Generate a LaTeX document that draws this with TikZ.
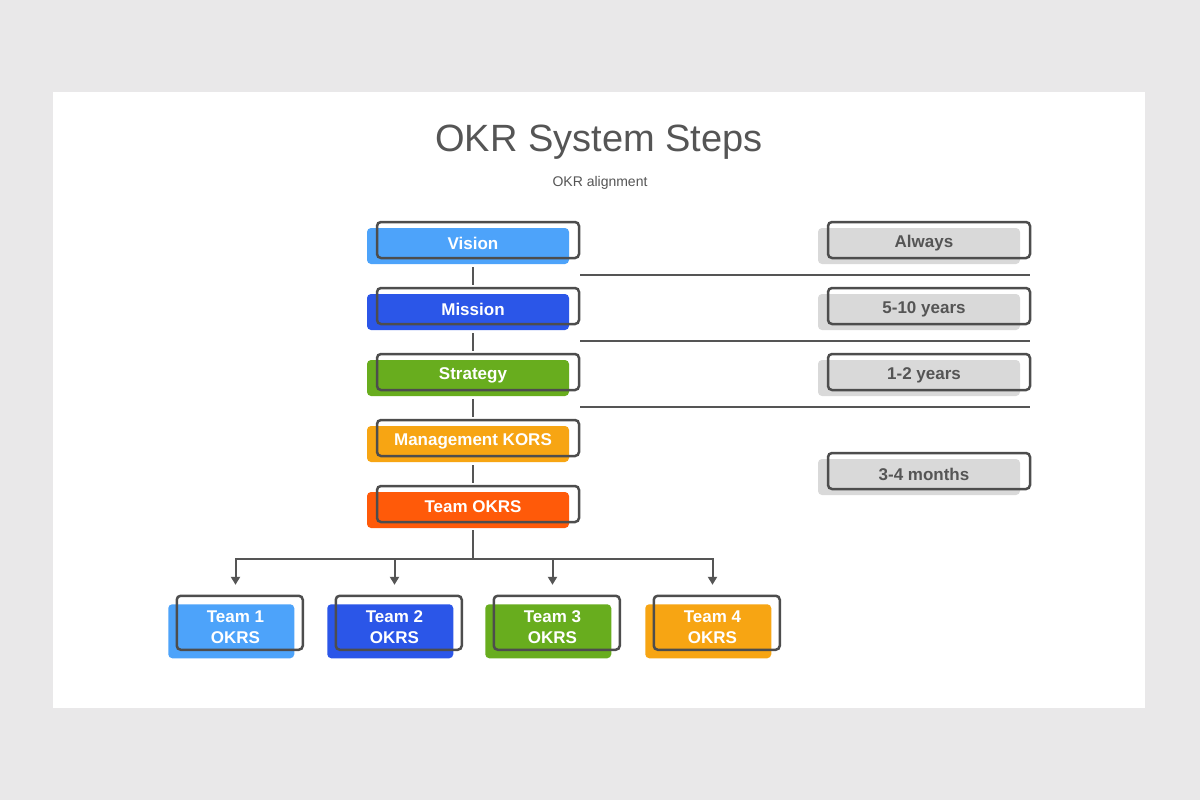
\documentclass[tikz,border=0pt]{standalone}
\usepackage{fontspec}
\setmainfont{Liberation Sans}
\usetikzlibrary{arrows.meta}

\definecolor{pagegray}{HTML}{E9E8E9}
\definecolor{framegray}{HTML}{4D4D4D}
\definecolor{textgray}{HTML}{555555}
\definecolor{boxgray}{HTML}{D9D9D9}
\definecolor{skyblue}{HTML}{4DA3FA}
\definecolor{royalblue}{HTML}{2B56E8}
\definecolor{leafgreen}{HTML}{68AD1E}
\definecolor{amber}{HTML}{F7A513}
\definecolor{flame}{HTML}{FF5A09}

\begin{document}
\begin{tikzpicture}[
    x=1pt, y=-1pt,
    every node/.style={font=\fontsize{17}{21}\selectfont\bfseries},
    stepbox/.style={rectangle, rounded corners=4pt, minimum width=202pt, minimum height=36pt, inner sep=0pt, text=white,
        preaction={fill=#1, transform canvas={shift={(-5pt,-3pt)}}},
        postaction={draw=framegray, line width=2.5pt, transform canvas={shift={(5pt,3pt)}}}},
    periodbox/.style={stepbox=boxgray, text=textgray},
    teambox/.style={rectangle, rounded corners=4pt, minimum width=126pt, minimum height=54pt, inner sep=0pt, text=white, align=center,
        preaction={fill=#1, transform canvas={shift={(-4.25pt,-4.25pt)}}},
        postaction={draw=framegray, line width=2.5pt, transform canvas={shift={(4.25pt,4.25pt)}}}},
    title/.style={font=\fontsize{38}{44}\selectfont, text=textgray},
    subtitle/.style={font=\fontsize{14}{16}\selectfont, text=textgray},
    link/.style={draw=textgray, line width=2pt},
    arrow/.style={link, -{Triangle[length=8pt, width=9pt]}},
    sepline/.style={draw=textgray, line width=2pt}
]
% -------------------------
% Page and panel
% -------------------------
    \useasboundingbox (0,0) rectangle (1200,800);
    \fill[pagegray] (0,0) rectangle (1200,800);
    \fill[white] (53,92) rectangle (1145,708);

% -------------------------
% Titles
% -------------------------
    \node[title] (title) at (599,142) {OKR System Steps};
    \node[subtitle] (subtitle) at (600,183) {OKR alignment};

% -------------------------
% Left Column (Steps)
% -------------------------
    \node[stepbox=skyblue] (vision) at (473,243) {Vision};
    \node[stepbox=royalblue] (mission) at (473,309) {Mission};
    \node[stepbox=leafgreen] (strategy) at (473,375) {Strategy};
    \node[stepbox=amber] (management) at (473,441) {Management KORS};
    \node[stepbox=flame] (teamokrs) at (473,507) {Team OKRS};

% -------------------------
% Right Column (Time horizons)
% -------------------------
    \node[periodbox] (always) at (924,243) {Always};
    \node[periodbox] (decade) at (924,309) {5-10 years};
    \node[periodbox] (years) at (924,375) {1-2 years};
    \node[periodbox] (months) at (924,474) {3-4 months};

    % separators between the rows
    \draw[sepline] (580,275) -- (1030,275);
    \draw[sepline] (580,341) -- (1030,341);
    \draw[sepline] (580,407) -- (1030,407);

% -------------------------
% Bottom Row (Teams)
% -------------------------
    \node[teambox=skyblue] (team1) at (235.5,627) {Team 1\\OKRS};
    \node[teambox=royalblue] (team2) at (394.5,627) {Team 2\\OKRS};
    \node[teambox=leafgreen] (team3) at (552.5,627) {Team 3\\OKRS};
    \node[teambox=amber] (team4) at (712.5,627) {Team 4\\OKRS};

% -------------------------
% Connectors
% -------------------------
    \draw[link, shorten <=6pt, shorten >=6pt] (vision) -- (mission);
    \draw[link, shorten <=6pt, shorten >=6pt] (mission) -- (strategy);
    \draw[link, shorten <=6pt, shorten >=6pt] (strategy) -- (management);
    \draw[link, shorten <=6pt, shorten >=6pt] (management) -- (teamokrs);

    \coordinate (split) at (473,559);
    \draw[link, shorten <=5pt] (teamokrs) -- (split);
    \draw[arrow, shorten >=15pt] (split) -| (team1.north);
    \draw[arrow, shorten >=15pt] (split) -| (team2.north);
    \draw[arrow, shorten >=15pt] (split) -| (team3.north);
    \draw[arrow, shorten >=15pt] (split) -| (team4.north);
\end{tikzpicture}
\end{document}
